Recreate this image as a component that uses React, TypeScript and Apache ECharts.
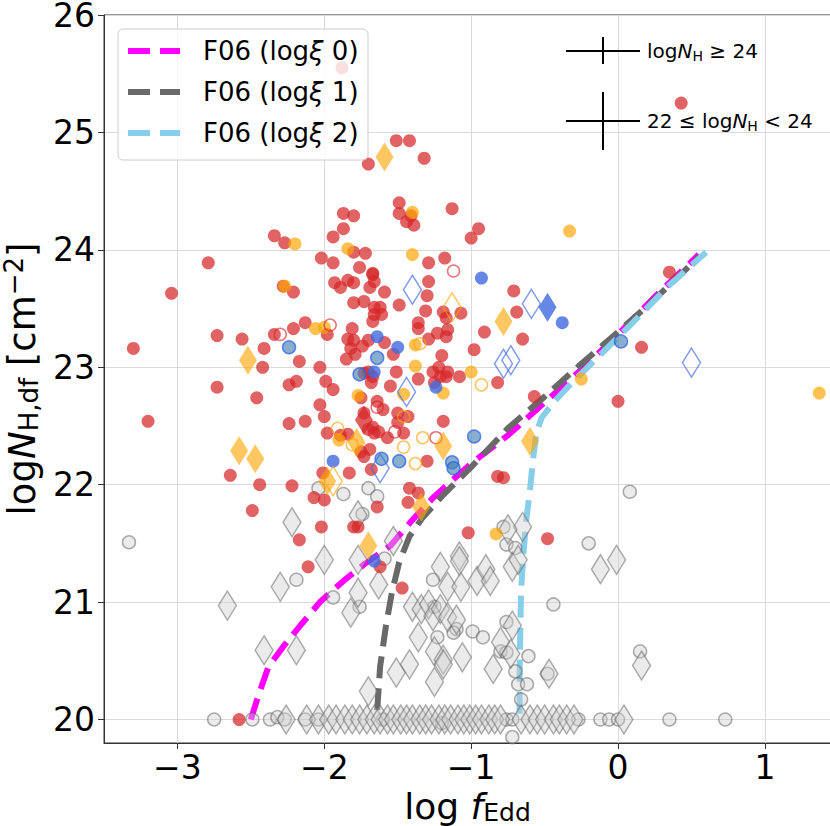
import { useEffect, useRef } from 'react';
import * as echarts from 'echarts';

const FONT = 'DejaVu Sans';

// F06 model curves (log fEdd, log NH)
const f06Xi0: [number, number][] = [
  [-2.50, 20.0], [-2.45, 20.2], [-2.38, 20.45], [-2.28, 20.62], [-2.15, 20.82], [-2.03, 21.0],
  [-1.87, 21.18], [-1.72, 21.33], [-1.55, 21.48], [-1.40, 21.70], [-1.25, 21.90], [-1.00, 22.18],
  [-0.75, 22.42], [-0.50, 22.70], [-0.25, 22.98], [0.0, 23.28], [0.25, 23.60], [0.55, 23.96],
];
const f06Xi1: [number, number][] = [
  [-1.64, 20.08], [-1.62, 20.45], [-1.58, 20.8], [-1.54, 21.08], [-1.49, 21.34], [-1.42, 21.56],
  [-1.33, 21.72], [-1.20, 21.9], [-1.0, 22.15], [-0.75, 22.48], [-0.50, 22.75], [-0.25, 23.03],
  [0.0, 23.30], [0.25, 23.58], [0.55, 23.94],
];
const f06Xi2: [number, number][] = [
  [-0.67, 20.05], [-0.67, 20.4], [-0.665, 20.8], [-0.66, 21.1], [-0.645, 21.4], [-0.625, 21.7],
  [-0.60, 21.95], [-0.58, 22.2], [-0.555, 22.45], [-0.52, 22.57], [-0.44, 22.70], [-0.32, 22.86],
  [-0.15, 23.07], [0.1, 23.38], [0.35, 23.70], [0.60, 23.98],
];

const redCircles: [number, number][] = [
  [-1.88, 25.55], [0.43, 25.25], [-1.51, 24.93], [-1.42, 24.93], [-1.32, 24.78], [-1.70, 24.73],
  [-1.49, 24.40], [-1.49, 24.31], [-1.41, 24.29], [-1.44, 24.24], [-1.39, 24.21],
  [-1.13, 24.35], [-0.95, 24.18], [-1.00, 24.10], [-1.87, 24.31], [-1.80, 24.29], [-1.87, 24.18],
  [-1.94, 24.11], [-1.80, 23.98], [-1.72, 23.97], [-2.02, 23.93], [-1.94, 23.89], [-1.29, 23.89],
  [-1.18, 23.93], [-1.76, 23.85], [-1.67, 23.80], [-2.34, 24.12], [-2.27, 24.06], [-2.79, 23.89],
  [-3.04, 23.63], [-2.28, 23.69], [-2.21, 23.64], [-2.73, 23.27], [-2.56, 23.24], [-2.34, 23.28],
  [-2.21, 23.33], [-2.13, 23.38], [-1.98, 23.28], [-2.41, 23.16], [-2.42, 23.00], [-2.17, 23.05],
  [-2.03, 23.00], [-2.73, 22.83], [-2.46, 22.74], [-2.24, 22.85], [-2.19, 22.88], [-1.99, 22.88],
  [-2.03, 22.68], [-2.00, 22.58], [-2.24, 22.52], [-2.13, 22.54], [-1.98, 22.44], [-2.64, 22.08],
  [-2.44, 22.00], [-2.22, 21.99], [-2.01, 22.10], [-2.07, 21.89], [-2.00, 21.87], [-2.49, 21.78],
  [-2.02, 21.64], [-2.17, 21.53], [-2.11, 21.30], [-3.30, 23.16], [-3.20, 22.54], [-2.58, 20.0],
  [-1.93, 23.72], [-1.89, 23.68], [-1.84, 23.74], [-1.80, 23.72], [-1.67, 23.79], [-1.66, 23.73],
  [-1.59, 23.64], [-1.69, 23.68], [-1.29, 23.73], [-1.30, 23.61], [-1.80, 23.55], [-1.73, 23.56],
  [-1.66, 23.51], [-1.62, 23.51], [-1.66, 23.45], [-1.61, 23.45], [-1.67, 23.39], [-1.49, 23.53],
  [-1.31, 23.48], [-1.19, 23.47], [-1.17, 23.42], [-1.07, 23.46], [-1.36, 23.38], [-1.36, 23.33],
  [-1.81, 23.33], [-1.23, 23.29], [-1.16, 23.32], [-1.17, 23.26], [-1.29, 23.24], [-1.84, 23.24],
  [-1.80, 23.23], [-1.74, 23.18], [-1.70, 23.23], [-1.82, 23.16], [-1.79, 23.11], [-1.85, 23.07],
  [-1.59, 23.21], [-1.53, 23.11], [-0.98, 23.15], [-0.91, 23.30], [-1.20, 23.10], [-1.51, 22.96],
  [-1.26, 22.96], [-1.22, 23.00], [-1.16, 22.96], [-1.21, 22.92], [-1.17, 22.92], [-1.25, 22.87],
  [-1.08, 22.92], [-0.82, 22.87], [-1.36, 22.90], [-1.55, 22.84], [-1.73, 22.95], [-1.67, 22.92],
  [-1.70, 22.96], [-1.68, 22.87], [-1.94, 22.81], [-1.75, 22.74], [-1.64, 22.71], [-1.60, 22.64],
  [-1.50, 22.61], [-1.43, 22.58], [-1.73, 22.61], [-1.67, 22.49], [-1.66, 22.44], [-1.63, 22.45],
  [-1.70, 22.47], [-1.50, 22.53], [-1.19, 22.54], [-1.89, 22.42], [-1.84, 22.43], [-1.75, 22.28],
  [-1.73, 22.24], [-1.69, 22.30], [-1.57, 22.40], [-1.46, 22.44], [-1.30, 22.20], [-1.83, 22.10],
  [-1.68, 22.13], [-0.82, 22.07], [-1.42, 21.97], [-1.36, 21.93], [-1.43, 21.85], [-1.64, 21.81],
  [-1.80, 21.64], [-1.77, 21.64], [-1.02, 21.59], [-1.62, 21.30], [-1.47, 21.12], [-0.48, 21.54],
  [-0.71, 23.65], [-0.69, 23.47], [-0.65, 23.24], [-0.57, 22.75], [0.16, 23.17], [0.00, 22.71],
  [0.35, 23.81], [-0.78, 22.06],
];
const orangeCircles: [number, number][] = [
  [-2.20, 24.05], [-1.84, 24.01], [-1.40, 23.96], [-1.40, 24.32], [-0.33, 24.16], [-2.27, 23.69],
  [-2.06, 23.33], [-2.00, 23.34], [-1.38, 23.19], [-1.38, 23.01], [-1.00, 22.96], [-1.19, 22.78],
  [-1.46, 22.77], [-1.77, 22.76], [-1.90, 22.38], [-0.25, 22.90], [1.37, 22.78], [-0.83, 21.58],
];
const blueCircles: [number, number][] = [
  [-0.93, 23.76], [-0.38, 23.38], [-1.64, 23.26], [-1.50, 23.17], [-1.24, 22.83], [-1.66, 22.96],
  [-1.94, 22.20], [-1.66, 21.35],
];
const blueRingCircles: [number, number][] = [
  [-2.24, 23.17], [-1.64, 23.08], [-1.76, 22.94], [-0.98, 22.41], [-1.61, 22.22], [-1.49, 22.20],
  [-1.13, 22.19], [-1.12, 22.14], [0.02, 23.22],
];
const redOpenCircles: [number, number][] = [
  [-1.12, 23.82], [-2.30, 23.28], [-1.96, 23.36], [-1.64, 22.66], [-1.52, 22.45], [-1.24, 22.40],
];
const orangeOpenCircles: [number, number][] = [
  [-1.35, 23.20], [-0.93, 22.85], [-1.46, 22.58], [-1.91, 22.48], [-1.81, 22.34], [-1.33, 22.40],
  [-1.46, 22.32], [-1.38, 22.18],
];
const orangeDiamonds: [number, number][] = [
  [-1.59, 24.79], [-2.52, 23.06], [-2.58, 22.29], [-2.47, 22.22], [-1.98, 22.03], [-1.78, 22.36],
  [-1.19, 22.33], [-0.78, 23.39], [-0.60, 22.37], [-1.70, 21.48], [-1.34, 21.81],
];
const orangeOpenDiamonds: [number, number][] = [[-1.13, 23.51], [-1.94, 22.03]];
const blueOpenDiamonds: [number, number][] = [
  [-1.40, 23.66], [-0.59, 23.54], [-1.44, 22.79], [-0.78, 23.03], [-0.73, 23.06], [-1.62, 22.14],
  [0.50, 23.04],
];
const blueDiamonds: [number, number][] = [[-0.48, 23.51]];
const redDiamonds: [number, number][] = [[-1.73, 22.55]];

const greyCircles: [number, number][] = [
  [-3.33, 21.51], [-2.04, 21.97], [-1.70, 21.97], [-1.64, 21.90], [-1.87, 21.92], [-1.74, 21.75],
  [-2.19, 21.19], [-1.94, 21.04], [-1.76, 20.96], [-1.59, 21.37], [-1.26, 21.19], [-1.23, 20.70],
  [-1.25, 20.96], [-1.10, 20.77], [-1.12, 20.74], [-0.99, 20.75], [-0.92, 20.70], [-0.80, 20.58],
  [-0.76, 20.57], [-0.76, 20.83], [-0.61, 20.54], [-0.70, 20.41], [-0.68, 20.30], [-0.62, 20.30],
  [-0.66, 20.17], [-0.44, 20.98], [-0.48, 20.39], [-0.20, 21.50], [-0.78, 21.64], [-0.76, 21.49],
  [-0.70, 21.46], [0.08, 21.94], [0.15, 20.58], [-0.72, 19.85],
  [-2.75, 20.0], [-2.49, 20.0], [-2.37, 20.0], [-2.32, 20.02], [-2.27, 20.0], [-2.13, 20.0],
  [-2.04, 20.0], [-1.60, 20.0], [-1.20, 19.97], [-0.76, 20.0], [-0.72, 20.0], [-0.27, 20.0],
  [-0.12, 20.0], [-0.06, 20.0], [0.0, 20.0], [0.35, 20.0], [0.73, 20.0],
];
const greyDiamonds: [number, number][] = [
  [-2.22, 21.68], [-1.77, 21.74], [-2.00, 21.36], [-2.30, 21.13], [-2.66, 20.97], [-1.77, 21.08],
  [-1.82, 20.91], [-1.63, 21.15], [-1.77, 21.36], [-1.53, 21.52], [-2.41, 20.59], [-2.19, 20.59],
  [-1.70, 20.24], [-1.51, 20.40], [-1.42, 20.47], [-1.25, 20.32], [-1.21, 21.30], [-1.36, 20.70],
  [-1.40, 20.96], [-1.34, 20.94], [-1.29, 20.98], [-1.26, 20.88], [-1.21, 20.94], [-1.16, 20.87],
  [-1.10, 20.85], [-1.25, 20.58], [-1.19, 20.51], [-1.19, 20.47], [-1.08, 21.39], [-1.08, 21.35],
  [-1.16, 21.13], [-1.07, 21.13], [-0.96, 21.18], [-0.90, 21.28], [-0.87, 21.18], [-1.06, 20.53],
  [-0.85, 20.43], [-0.80, 20.66], [-0.72, 20.80], [-0.73, 20.56], [-0.47, 20.39], [-0.12, 21.28],
  [-0.01, 21.36], [-0.72, 21.30], [-0.68, 21.36], [-0.65, 21.64], [-0.75, 21.62], [0.16, 20.46],
  [-0.56, 19.72],
  [-2.26, 20.0], [-2.12, 20.0], [-2.04, 20.0], [-1.97, 20.0], [-1.92, 20.0], [-1.86, 20.0],
  [-1.81, 20.0], [-1.76, 20.0], [-1.71, 20.0], [-1.66, 20.0], [-1.62, 20.0], [-1.57, 20.0],
  [-1.53, 20.0], [-1.48, 20.0], [-1.44, 20.0], [-1.40, 20.0], [-1.35, 20.0], [-1.31, 20.0],
  [-1.27, 20.0], [-1.22, 20.0], [-1.18, 20.0], [-1.14, 20.0], [-1.09, 20.0], [-1.05, 20.0],
  [-1.01, 20.0], [-0.97, 20.0], [-0.93, 20.0], [-0.88, 20.0], [-0.84, 20.0], [-0.80, 20.0],
  [-0.66, 20.0], [-0.60, 20.0], [-0.55, 20.0], [-0.50, 20.0], [-0.44, 20.0], [-0.40, 20.0],
  [-0.35, 20.0], [-0.30, 20.0], [0.04, 20.0],
];

const X_MIN = -3.5;
const X_MAX = 1.45;
const Y_MIN = 19.8;
const Y_MAX = 26;
const xTicks = [-3, -2, -1, 0, 1];
const yTicks = [20, 21, 22, 23, 24, 25, 26];

const legendNames = ['F06 (logξ 0)', 'F06 (logξ 1)', 'F06 (logξ 2)'];
const legendColors = ['#ff00ff', '#696969', '#87ceeb'];

export default function App() {
  const ref = useRef<HTMLDivElement>(null);
  useEffect(() => {
    const chart = echarts.init(ref.current!, null, { renderer: 'svg' });
    const DIAMOND: [number, number] = [18, 29];
    const sc = (name: string, data: [number, number][], symbol: string, size: any, itemStyle: any, z: number) => ({
      type: 'scatter', name, data, symbol, symbolSize: size, itemStyle, z, silent: true,
      emphasis: { disabled: true },
    });
    const ln = (name: string, data: [number, number][], color: string) => ({
      type: 'line', name, data, showSymbol: false, symbol: 'none', z: 2, silent: true,
      lineStyle: { color, width: 6, type: [22, 10], cap: 'butt' },
    });
    const greyStyle = { color: 'rgba(205,205,205,0.5)', borderColor: 'rgba(100,100,100,0.65)', borderWidth: 1.5 };
    const tickFmt = (v: number) => Number.isInteger(v) ? (v < 0 ? '\u2212' + Math.abs(v) : String(v)) : '';

    const legendGraphics: any[] = [
      { type: 'rect', z: 100, shape: { x: 118, y: 29, width: 250, height: 131, r: 5 },
        style: { fill: 'rgba(255,255,255,0.8)', stroke: '#cccccc', lineWidth: 1 } },
    ];
    legendNames.forEach((n, i) => {
      const yy = 51 + i * 41;
      legendGraphics.push({ type: 'line', z: 101, shape: { x1: 128, y1: yy, x2: 180, y2: yy },
        style: { stroke: legendColors[i], lineWidth: 6, lineDash: [22, 10] } });
      const parts = n.split('ξ');
      legendGraphics.push({ type: 'text', z: 101, x: 203, y: yy,
        style: { text: `{a|${parts[0]}}{i|ξ}{a|${parts[1].replace(' ', '\u00a0')}}`, verticalAlign: 'middle', align: 'left',
          rich: { a: { fontSize: 26, fontFamily: FONT, fill: '#000' }, i: { fontSize: 26, fontFamily: FONT, fontStyle: 'italic', fill: '#000' } } } });
    });

    const annotRich = {
      a: { fontSize: 20, fontFamily: FONT },
      i: { fontSize: 20, fontFamily: FONT, fontStyle: 'italic' },
      s: { fontSize: 14, fontFamily: FONT, padding: [10, 0, 0, 0] },
    };
    const annot: any[] = [
      { type: 'line', z: 101, shape: { x1: 566, y1: 51, x2: 640, y2: 51 }, style: { stroke: '#000', lineWidth: 2 } },
      { type: 'line', z: 101, shape: { x1: 603, y1: 37, x2: 603, y2: 64 }, style: { stroke: '#000', lineWidth: 2 } },
      { type: 'line', z: 101, shape: { x1: 566, y1: 121, x2: 640, y2: 121 }, style: { stroke: '#000', lineWidth: 2 } },
      { type: 'line', z: 101, shape: { x1: 603, y1: 92, x2: 603, y2: 150 }, style: { stroke: '#000', lineWidth: 2 } },
      { type: 'text', z: 101, x: 647, y: 51, style: { text: '{a|log}{i|N}{s|H}{a|\u00a0≥\u00a024}', verticalAlign: 'middle', align: 'left', rich: annotRich } },
      { type: 'text', z: 101, x: 647, y: 121, style: { text: '{a|22\u00a0≤\u00a0log}{i|N}{s|H}{a|\u00a0<\u00a024}', verticalAlign: 'middle', align: 'left', rich: annotRich } },
    ];

    chart.setOption({
      animation: false,
      backgroundColor: '#ffffff',
      textStyle: { fontFamily: FONT },
      grid: { left: 104, top: 15, width: 727, height: 728, show: true, borderColor: '#333', borderWidth: 1, backgroundColor: 'transparent', containLabel: false, outerBoundsMode: 'none' },
      xAxis: {
        type: 'value', min: X_MIN, max: X_MAX, minInterval: 1, maxInterval: 1,
        axisLine: { onZero: false, lineStyle: { color: '#333', width: 1 } },
        axisTick: { length: 6, customValues: xTicks, lineStyle: { color: '#333' } },
        axisLabel: { formatter: tickFmt, customValues: xTicks, fontSize: 33, fontFamily: FONT, color: '#000', margin: 9, lineHeight: 30 },
        splitLine: { show: true, lineStyle: { color: '#dadada', width: 1 } },
        name: '{n|log\u00a0}{i|f}{s|Edd}', nameLocation: 'middle', nameGap: 28,
        nameTextStyle: { rich: {
          n: { fontSize: 36, fontFamily: FONT, color: '#000' },
          i: { fontSize: 36, fontFamily: FONT, fontStyle: 'italic', color: '#000' },
          s: { fontSize: 25, fontFamily: FONT, color: '#000', padding: [12, 0, 0, 0] },
        } },
      },
      yAxis: {
        type: 'value', min: Y_MIN, max: Y_MAX, minInterval: 1, maxInterval: 1,
        axisLine: { onZero: false, lineStyle: { color: '#333', width: 1 } },
        axisTick: { length: 6, customValues: yTicks, lineStyle: { color: '#333' } },
        axisLabel: { formatter: tickFmt, customValues: yTicks, fontSize: 33, fontFamily: FONT, color: '#000', margin: 9, lineHeight: 26 },
        splitLine: { show: true, lineStyle: { color: '#dadada', width: 1 } },
        name: '{n|log}{i|N}{s|H,df}{n|\u00a0[cm}{p|\u22122}{n|]}', nameLocation: 'middle', nameGap: 53, nameRotate: 90,
        nameTextStyle: { rich: {
          n: { fontSize: 37, fontFamily: FONT, color: '#000' },
          i: { fontSize: 37, fontFamily: FONT, fontStyle: 'italic', color: '#000' },
          s: { fontSize: 26, fontFamily: FONT, color: '#000', padding: [14, 0, 0, 0] },
          p: { fontSize: 26, fontFamily: FONT, color: '#000', padding: [0, 0, 16, 0] },
        } },
      },
      series: [
        ln(legendNames[0], f06Xi0, legendColors[0]),
        ln(legendNames[1], f06Xi1, legendColors[1]),
        ln(legendNames[2], f06Xi2, legendColors[2]),
        sc('grey circles', greyCircles, 'circle', 13, greyStyle, 3),
        sc('grey diamonds', greyDiamonds, 'diamond', DIAMOND, greyStyle, 3),
        sc('red', redCircles, 'circle', 13, { color: '#d62728', opacity: 0.72 }, 4),
        sc('orange', orangeCircles, 'circle', 13, { color: '#ffa500', opacity: 0.68 }, 4),
        sc('blue', blueCircles, 'circle', 13, { color: '#4169e1', opacity: 0.8 }, 4),
        sc('blue ring', blueRingCircles, 'circle', 13, { color: 'rgba(70,130,180,0.8)', borderColor: 'rgba(40,90,230,0.85)', borderWidth: 1.5 }, 4),
        sc('red open', redOpenCircles, 'circle', 12, { color: 'rgba(0,0,0,0)', borderColor: 'rgba(214,39,40,0.8)', borderWidth: 1.5 }, 4),
        sc('orange open', orangeOpenCircles, 'circle', 12, { color: 'rgba(0,0,0,0)', borderColor: 'rgba(255,165,0,0.8)', borderWidth: 1.5 }, 4),
        sc('orange diamond', orangeDiamonds, 'diamond', DIAMOND, { color: '#ffa500', opacity: 0.62 }, 4),
        sc('orange open diamond', orangeOpenDiamonds, 'diamond', DIAMOND, { color: 'rgba(0,0,0,0)', borderColor: 'rgba(255,165,0,0.8)', borderWidth: 1.5 }, 4),
        sc('blue open diamond', blueOpenDiamonds, 'diamond', DIAMOND, { color: 'rgba(0,0,0,0)', borderColor: 'rgba(65,105,225,0.85)', borderWidth: 1.5 }, 4),
        sc('blue diamond', blueDiamonds, 'diamond', DIAMOND, { color: '#4169e1', opacity: 0.8 }, 4),
        sc('red diamond', redDiamonds, 'diamond', DIAMOND, { color: '#d62728', opacity: 0.75 }, 4),
      ],
      graphic: [...legendGraphics, ...annot],
    });
    return () => chart.dispose();
  }, []);
  return <div ref={ref} style={{ position: 'absolute', left: 0, top: 0, width: 830, height: 826 }} />;
}
